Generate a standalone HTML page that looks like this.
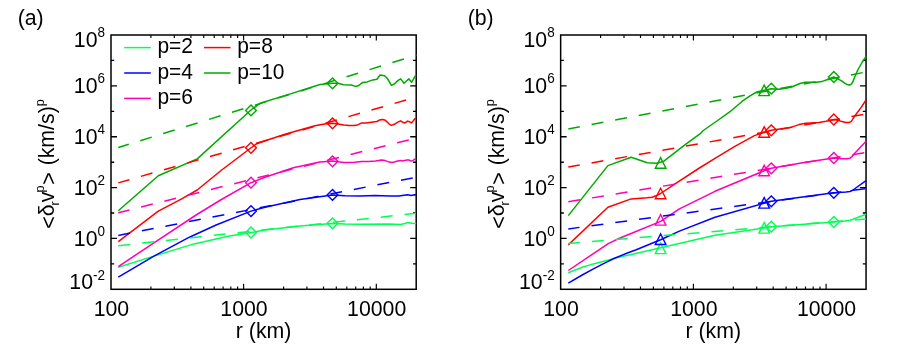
<!DOCTYPE html>
<html><head><meta charset="utf-8"><style>
html,body{margin:0;padding:0;background:#fff;}
svg{display:block;will-change:transform;font-family:"Liberation Sans",sans-serif;}
</style></head><body>
<svg width="899" height="360" viewBox="0 0 899 360">
<rect width="899" height="360" fill="#fff"/>
<rect x="111" y="35" width="305.2" height="254.3" fill="none" stroke="#000" stroke-width="1.5"/>
<path d="M150.9,289.3 v-2.9 M150.9,35 v2.9" stroke="#000" stroke-width="1.15"/>
<path d="M174.3,289.3 v-2.9 M174.3,35 v2.9" stroke="#000" stroke-width="1.15"/>
<path d="M190.9,289.3 v-2.9 M190.9,35 v2.9" stroke="#000" stroke-width="1.15"/>
<path d="M203.7,289.3 v-2.9 M203.7,35 v2.9" stroke="#000" stroke-width="1.15"/>
<path d="M214.2,289.3 v-2.9 M214.2,35 v2.9" stroke="#000" stroke-width="1.15"/>
<path d="M223.1,289.3 v-2.9 M223.1,35 v2.9" stroke="#000" stroke-width="1.15"/>
<path d="M230.8,289.3 v-2.9 M230.8,35 v2.9" stroke="#000" stroke-width="1.15"/>
<path d="M237.6,289.3 v-2.9 M237.6,35 v2.9" stroke="#000" stroke-width="1.15"/>
<path d="M243.6,289.3 v-5.5 M243.6,35 v5.5" stroke="#000" stroke-width="1.15"/>
<path d="M283.6,289.3 v-2.9 M283.6,35 v2.9" stroke="#000" stroke-width="1.15"/>
<path d="M306.9,289.3 v-2.9 M306.9,35 v2.9" stroke="#000" stroke-width="1.15"/>
<path d="M323.5,289.3 v-2.9 M323.5,35 v2.9" stroke="#000" stroke-width="1.15"/>
<path d="M336.3,289.3 v-2.9 M336.3,35 v2.9" stroke="#000" stroke-width="1.15"/>
<path d="M346.8,289.3 v-2.9 M346.8,35 v2.9" stroke="#000" stroke-width="1.15"/>
<path d="M355.7,289.3 v-2.9 M355.7,35 v2.9" stroke="#000" stroke-width="1.15"/>
<path d="M363.4,289.3 v-2.9 M363.4,35 v2.9" stroke="#000" stroke-width="1.15"/>
<path d="M370.2,289.3 v-2.9 M370.2,35 v2.9" stroke="#000" stroke-width="1.15"/>
<path d="M376.3,289.3 v-5.5 M376.3,35 v5.5" stroke="#000" stroke-width="1.15"/>
<text transform="translate(105,289.0) scale(1,1.045)" text-anchor="end" font-size="21.3">10<tspan dy="-8.5" font-size="13.5">-2</tspan></text>
<path d="M111,263.9 h3.2 M416.2,263.9 h-3.2" stroke="#000" stroke-width="1.35"/>
<path d="M111,238.4 h6.0 M416.2,238.4 h-6.0" stroke="#000" stroke-width="1.35"/>
<text transform="translate(105,245.9) scale(1,1.045)" text-anchor="end" font-size="21.3">10<tspan dy="-9.6" font-size="13.5">0</tspan></text>
<path d="M111,213.0 h3.2 M416.2,213.0 h-3.2" stroke="#000" stroke-width="1.35"/>
<path d="M111,187.6 h6.0 M416.2,187.6 h-6.0" stroke="#000" stroke-width="1.35"/>
<text transform="translate(105,195.1) scale(1,1.045)" text-anchor="end" font-size="21.3">10<tspan dy="-9.6" font-size="13.5">2</tspan></text>
<path d="M111,162.2 h3.2 M416.2,162.2 h-3.2" stroke="#000" stroke-width="1.35"/>
<path d="M111,136.7 h6.0 M416.2,136.7 h-6.0" stroke="#000" stroke-width="1.35"/>
<text transform="translate(105,144.2) scale(1,1.045)" text-anchor="end" font-size="21.3">10<tspan dy="-9.6" font-size="13.5">4</tspan></text>
<path d="M111,111.3 h3.2 M416.2,111.3 h-3.2" stroke="#000" stroke-width="1.35"/>
<path d="M111,85.9 h6.0 M416.2,85.9 h-6.0" stroke="#000" stroke-width="1.35"/>
<text transform="translate(105,93.4) scale(1,1.045)" text-anchor="end" font-size="21.3">10<tspan dy="-10.3" font-size="13.5">6</tspan></text>
<path d="M111,60.4 h3.2 M416.2,60.4 h-3.2" stroke="#000" stroke-width="1.35"/>
<text transform="translate(105,47.4) scale(1,1.045)" text-anchor="end" font-size="21.3">10<tspan dy="-9.6" font-size="13.5">8</tspan></text>
<text transform="translate(111.4,315.8) scale(1,1.045)" text-anchor="middle" font-size="21.3">100</text>
<text transform="translate(244.0,315.8) scale(1,1.045)" text-anchor="middle" font-size="21.3">1000</text>
<text transform="translate(376.7,315.8) scale(1,1.045)" text-anchor="middle" font-size="21.3">10000</text>
<text x="263.6" y="337.7" text-anchor="middle" font-size="21.3">r (km)</text>
<text transform="translate(54.3,228.8) rotate(-90)" font-size="21.3"><tspan dy="2">&lt;</tspan><tspan dy="-2">δ</tspan><tspan dy="4.6" dx="-1.1" font-size="12.5">r</tspan><tspan dy="-4.6" dx="-0.9">v</tspan><tspan dy="-10.3" dx="-0.9" font-size="12.5">p</tspan><tspan dy="12.3" dx="0.8">&gt;</tspan><tspan dy="-2" dx="1.1"> (km/s)</tspan><tspan dy="-10.3" font-size="12.5">p</tspan></text>
<text x="17.7" y="24.5" font-size="21.3">(a)</text>
<text x="467.7" y="24.5" font-size="21.3">(b)</text>
<path d="M124.2,47.6 H150.8" stroke="#00ff55" stroke-width="1.5"/>
<text transform="translate(157.4,53.3) scale(1,1.045)" font-size="21">p=2</text>
<path d="M124.2,73.0 H150.8" stroke="#0000ff" stroke-width="1.5"/>
<text transform="translate(157.4,78.7) scale(1,1.045)" font-size="21">p=4</text>
<path d="M124.2,98.4 H150.8" stroke="#ff00b4" stroke-width="1.5"/>
<text transform="translate(157.4,104.1) scale(1,1.045)" font-size="21">p=6</text>
<path d="M204,47.6 H230.5" stroke="#ff0000" stroke-width="1.5"/>
<text transform="translate(237.2,53.3) scale(1,1.045)" font-size="21">p=8</text>
<path d="M204,73.0 H230.5" stroke="#00aa00" stroke-width="1.5"/>
<text transform="translate(237.2,78.7) scale(1,1.045)" font-size="21">p=10</text>
<path d="M118.3,267.2 L153.9,256.1 L193.9,243.9 L229.4,236.1 L251.0,232.5 L265.0,230.1 L300.0,226.0 L332.2,223.4 L345.0,224.0 L360.0,224.2 L390.0,224.0 L400.4,224.5 L404.9,223.5 L407.6,222.4 L412.0,223.2 L416.2,223.6" fill="none" stroke="#00ff55" stroke-width="1.5" stroke-linejoin="round"/>
<path d="M118.3,277.2 L153.9,256.1 L189.4,237.2 L216.1,225.0 L251.0,211.1 L265.0,207.2 L300.0,199.5 L332.2,195.0 L345.0,195.8 L360.0,196.0 L375.0,195.5 L390.0,196.0 L398.7,196.1 L407.6,194.7 L411.1,195.6 L414.7,194.7 L416.2,195.0" fill="none" stroke="#0000ff" stroke-width="1.5" stroke-linejoin="round"/>
<path d="M118.3,266.6 L153.9,242.8 L196.1,215.0 L220.6,200.0 L251.0,182.7 L265.0,177.2 L293.3,167.8 L320.0,162.1 L326.9,161.4 L332.5,161.0 L338.1,161.7 L343.6,162.4 L349.2,162.5 L354.7,162.2 L361.7,161.4 L368.6,161.4 L375.6,161.0 L379.0,160.4 L381.1,160.0 L383.9,160.3 L386.7,161.1 L389.4,162.1 L392.2,162.4 L395.0,161.8 L397.8,161.1 L400.6,160.4 L402.6,161.0 L404.7,160.4 L406.8,160.0 L408.9,160.0 L411.0,161.1 L412.8,160.7 L414.4,159.3 L416.2,158.9" fill="none" stroke="#ff00b4" stroke-width="1.5" stroke-linejoin="round"/>
<path d="M118.3,241.6 L158.3,211.1 L181.7,198.9 L197.2,190.0 L221.7,170.0 L250.8,148.0 L256.7,143.7 L268.3,139.7 L285.0,134.2 L301.7,129.5 L315.0,125.8 L321.7,124.4 L326.9,123.8 L332.5,123.3 L338.1,123.9 L343.6,125.0 L349.2,125.4 L354.7,125.4 L358.2,124.7 L361.7,122.9 L365.8,122.9 L371.4,122.2 L376.9,121.5 L379.7,119.9 L382.5,119.4 L384.6,119.9 L387.4,122.2 L389.4,124.3 L391.5,125.4 L394.3,124.3 L397.8,122.2 L400.6,120.8 L403.3,122.6 L405.0,122.9 L407.5,121.1 L409.6,121.8 L411.4,122.9 L413.3,120.8 L415.1,118.5 L416.2,118.1" fill="none" stroke="#ff0000" stroke-width="1.5" stroke-linejoin="round"/>
<path d="M118.3,210.7 L158.3,175.8 L197.2,158.9 L251.0,110.0 L260.0,103.3 L288.9,94.4 L320.0,84.5 L332.5,83.3 L338.0,83.3 L343.6,84.7 L351.3,85.0 L355.4,86.4 L358.2,85.8 L362.4,82.6 L367.2,81.9 L372.8,79.9 L376.9,79.2 L380.0,75.0 L384.6,75.7 L387.4,78.5 L391.5,85.4 L394.3,84.0 L397.8,80.6 L400.6,78.9 L404.0,83.3 L406.1,81.3 L408.9,78.9 L411.7,82.2 L413.8,78.5 L416.0,75.0" fill="none" stroke="#00aa00" stroke-width="1.5" stroke-linejoin="round"/>
<path d="M245.6,232.5 L251.0,227.1 L256.4,232.5 L251.0,237.9 Z" fill="none" stroke="#00ff55" stroke-width="1.4"/>
<path d="M327.1,223.3 L332.5,217.9 L337.9,223.3 L332.5,228.7 Z" fill="none" stroke="#00ff55" stroke-width="1.4"/>
<path d="M245.6,211.1 L251.0,205.7 L256.4,211.1 L251.0,216.5 Z" fill="none" stroke="#0000ff" stroke-width="1.4"/>
<path d="M327.1,194.9 L332.5,189.5 L337.9,194.9 L332.5,200.3 Z" fill="none" stroke="#0000ff" stroke-width="1.4"/>
<path d="M245.6,182.7 L251.0,177.3 L256.4,182.7 L251.0,188.1 Z" fill="none" stroke="#ff00b4" stroke-width="1.4"/>
<path d="M327.1,161.3 L332.5,155.9 L337.9,161.3 L332.5,166.7 Z" fill="none" stroke="#ff00b4" stroke-width="1.4"/>
<path d="M245.6,147.8 L251.0,142.4 L256.4,147.8 L251.0,153.2 Z" fill="none" stroke="#ff0000" stroke-width="1.4"/>
<path d="M327.1,123.3 L332.5,117.9 L337.9,123.3 L332.5,128.7 Z" fill="none" stroke="#ff0000" stroke-width="1.4"/>
<path d="M245.6,110.4 L251.0,105.0 L256.4,110.4 L251.0,115.8 Z" fill="none" stroke="#00aa00" stroke-width="1.4"/>
<path d="M327.1,83.3 L332.5,77.9 L337.9,83.3 L332.5,88.7 Z" fill="none" stroke="#00aa00" stroke-width="1.4"/>
<path d="M118.3,245.7 L416.0,213.3" fill="none" stroke="#00ff55" stroke-width="1.5" stroke-linejoin="round" stroke-dasharray="12 12" stroke-dashoffset="0"/>
<path d="M118.3,235.4 L416.0,177.3" fill="none" stroke="#0000ff" stroke-width="1.5" stroke-linejoin="round" stroke-dasharray="12 12" stroke-dashoffset="0"/>
<path d="M118.3,212.7 L416.0,138.1" fill="none" stroke="#ff00b4" stroke-width="1.5" stroke-linejoin="round" stroke-dasharray="12 12" stroke-dashoffset="0.5"/>
<path d="M118.3,182.9 L416.0,97.2" fill="none" stroke="#ff0000" stroke-width="1.5" stroke-linejoin="round" stroke-dasharray="12 12" stroke-dashoffset="0.5"/>
<path d="M118.3,147.5 L416.4,55.1" fill="none" stroke="#00aa00" stroke-width="1.5" stroke-linejoin="round" stroke-dasharray="12 12" stroke-dashoffset="1.0"/>
<rect x="560.65" y="35" width="305.4" height="254.3" fill="none" stroke="#000" stroke-width="1.5"/>
<path d="M600.6,289.3 v-2.9 M600.6,35 v2.9" stroke="#000" stroke-width="1.15"/>
<path d="M624.0,289.3 v-2.9 M624.0,35 v2.9" stroke="#000" stroke-width="1.15"/>
<path d="M640.5,289.3 v-2.9 M640.5,35 v2.9" stroke="#000" stroke-width="1.15"/>
<path d="M653.4,289.3 v-2.9 M653.4,35 v2.9" stroke="#000" stroke-width="1.15"/>
<path d="M663.9,289.3 v-2.9 M663.9,35 v2.9" stroke="#000" stroke-width="1.15"/>
<path d="M672.8,289.3 v-2.9 M672.8,35 v2.9" stroke="#000" stroke-width="1.15"/>
<path d="M680.5,289.3 v-2.9 M680.5,35 v2.9" stroke="#000" stroke-width="1.15"/>
<path d="M687.3,289.3 v-2.9 M687.3,35 v2.9" stroke="#000" stroke-width="1.15"/>
<path d="M693.4,289.3 v-5.5 M693.4,35 v5.5" stroke="#000" stroke-width="1.15"/>
<path d="M733.3,289.3 v-2.9 M733.3,35 v2.9" stroke="#000" stroke-width="1.15"/>
<path d="M756.7,289.3 v-2.9 M756.7,35 v2.9" stroke="#000" stroke-width="1.15"/>
<path d="M773.2,289.3 v-2.9 M773.2,35 v2.9" stroke="#000" stroke-width="1.15"/>
<path d="M786.1,289.3 v-2.9 M786.1,35 v2.9" stroke="#000" stroke-width="1.15"/>
<path d="M796.6,289.3 v-2.9 M796.6,35 v2.9" stroke="#000" stroke-width="1.15"/>
<path d="M805.5,289.3 v-2.9 M805.5,35 v2.9" stroke="#000" stroke-width="1.15"/>
<path d="M813.2,289.3 v-2.9 M813.2,35 v2.9" stroke="#000" stroke-width="1.15"/>
<path d="M820.0,289.3 v-2.9 M820.0,35 v2.9" stroke="#000" stroke-width="1.15"/>
<path d="M826.1,289.3 v-5.5 M826.1,35 v5.5" stroke="#000" stroke-width="1.15"/>
<text transform="translate(554.65,289.0) scale(1,1.045)" text-anchor="end" font-size="21.3">10<tspan dy="-8.5" font-size="13.5">-2</tspan></text>
<path d="M560.65,263.9 h3.2 M866.0,263.9 h-3.2" stroke="#000" stroke-width="1.35"/>
<path d="M560.65,238.4 h6.0 M866.0,238.4 h-6.0" stroke="#000" stroke-width="1.35"/>
<text transform="translate(554.65,245.9) scale(1,1.045)" text-anchor="end" font-size="21.3">10<tspan dy="-9.6" font-size="13.5">0</tspan></text>
<path d="M560.65,213.0 h3.2 M866.0,213.0 h-3.2" stroke="#000" stroke-width="1.35"/>
<path d="M560.65,187.6 h6.0 M866.0,187.6 h-6.0" stroke="#000" stroke-width="1.35"/>
<text transform="translate(554.65,195.1) scale(1,1.045)" text-anchor="end" font-size="21.3">10<tspan dy="-9.6" font-size="13.5">2</tspan></text>
<path d="M560.65,162.2 h3.2 M866.0,162.2 h-3.2" stroke="#000" stroke-width="1.35"/>
<path d="M560.65,136.7 h6.0 M866.0,136.7 h-6.0" stroke="#000" stroke-width="1.35"/>
<text transform="translate(554.65,144.2) scale(1,1.045)" text-anchor="end" font-size="21.3">10<tspan dy="-9.6" font-size="13.5">4</tspan></text>
<path d="M560.65,111.3 h3.2 M866.0,111.3 h-3.2" stroke="#000" stroke-width="1.35"/>
<path d="M560.65,85.9 h6.0 M866.0,85.9 h-6.0" stroke="#000" stroke-width="1.35"/>
<text transform="translate(554.65,93.4) scale(1,1.045)" text-anchor="end" font-size="21.3">10<tspan dy="-10.3" font-size="13.5">6</tspan></text>
<path d="M560.65,60.4 h3.2 M866.0,60.4 h-3.2" stroke="#000" stroke-width="1.35"/>
<text transform="translate(554.65,47.4) scale(1,1.045)" text-anchor="end" font-size="21.3">10<tspan dy="-9.6" font-size="13.5">8</tspan></text>
<text transform="translate(561.0,315.8) scale(1,1.045)" text-anchor="middle" font-size="21.3">100</text>
<text transform="translate(693.8,315.8) scale(1,1.045)" text-anchor="middle" font-size="21.3">1000</text>
<text transform="translate(826.5,315.8) scale(1,1.045)" text-anchor="middle" font-size="21.3">10000</text>
<text x="713.3" y="337.7" text-anchor="middle" font-size="21.3">r (km)</text>
<text transform="translate(503.95,228.8) rotate(-90)" font-size="21.3"><tspan dy="2">&lt;</tspan><tspan dy="-2">δ</tspan><tspan dy="4.6" dx="-1.1" font-size="12.5">r</tspan><tspan dy="-4.6" dx="-0.9">v</tspan><tspan dy="-10.3" dx="-0.9" font-size="12.5">p</tspan><tspan dy="12.3" dx="0.8">&gt;</tspan><tspan dy="-2" dx="1.1"> (km/s)</tspan><tspan dy="-10.3" font-size="12.5">p</tspan></text>
<path d="M568.3,272.7 L582.2,267.3 L593.4,263.9 L604.5,261.1 L614.5,258.3 L626.7,255.6 L637.9,253.1 L651.2,250.0 L660.6,247.8 L715.0,235.2 L764.2,228.0 L771.3,226.7 L833.8,221.9 L845.0,220.9 L850.0,220.2 L853.0,219.3 L866.0,214.3" fill="none" stroke="#00ff55" stroke-width="1.5" stroke-linejoin="round"/>
<path d="M568.3,283.1 L582.2,275.0 L593.4,268.9 L604.5,263.1 L614.5,258.3 L626.7,253.3 L636.2,249.8 L660.6,239.7 L679.4,231.1 L715.0,217.2 L764.2,203.2 L771.3,201.3 L833.8,192.8 L846.0,191.9 L850.0,191.5 L853.0,190.0 L866.0,180.6" fill="none" stroke="#0000ff" stroke-width="1.5" stroke-linejoin="round"/>
<path d="M568.3,270.5 L608.3,243.6 L619.4,238.3 L631.7,233.2 L660.6,221.4 L679.4,208.9 L715.0,191.3 L764.2,170.8 L771.3,168.3 L805.6,162.2 L833.8,158.0 L841.0,158.8 L847.0,158.8 L850.0,158.2 L852.0,156.6 L855.0,153.0 L866.0,141.3" fill="none" stroke="#ff00b4" stroke-width="1.5" stroke-linejoin="round"/>
<path d="M568.3,244.9 L607.9,207.3 L631.2,198.9 L647.2,197.8 L652.0,197.2 L656.0,195.8 L660.6,193.5 L675.0,183.8 L699.4,168.0 L715.0,158.3 L734.4,146.7 L754.4,135.6 L764.2,132.5 L771.3,130.3 L790.0,127.6 L799.0,124.6 L805.6,123.3 L818.9,122.5 L826.0,121.2 L833.8,119.5 L838.0,120.3 L842.0,121.6 L846.0,122.4 L849.0,122.5 L851.0,121.6 L852.5,119.6 L854.2,116.7 L861.0,107.6 L866.0,100.0" fill="none" stroke="#ff0000" stroke-width="1.5" stroke-linejoin="round"/>
<path d="M568.3,215.6 L607.9,165.6 L631.2,157.3 L647.2,162.7 L657.2,163.3 L663.9,161.1 L683.9,145.6 L700.6,133.3 L703.3,130.5 L718.3,120.0 L730.0,111.7 L741.7,101.7 L750.0,95.8 L756.7,92.0 L764.2,90.3 L771.3,88.8 L778.9,89.2 L786.0,88.3 L791.7,87.0 L800.0,83.5 L805.0,82.2 L810.0,82.3 L815.0,82.6 L821.7,81.6 L828.3,79.3 L833.8,77.0 L838.0,78.8 L842.0,81.2 L845.0,83.3 L848.0,84.8 L849.7,85.0 L851.3,84.2 L852.8,82.0 L854.5,77.5 L858.0,69.5 L862.0,62.5 L866.0,56.5" fill="none" stroke="#00aa00" stroke-width="1.5" stroke-linejoin="round"/>
<path d="M655.3,253.6 L660.6,243.0 L665.9,253.6 Z" fill="none" stroke="#00ff55" stroke-width="1.4"/>
<path d="M758.9,233.1 L764.2,222.5 L769.5,233.1 Z" fill="none" stroke="#00ff55" stroke-width="1.4"/>
<path d="M765.9,226.7 L771.3,221.3 L776.7,226.7 L771.3,232.1 Z" fill="none" stroke="#00ff55" stroke-width="1.4"/>
<path d="M828.4,222.0 L833.8,216.6 L839.2,222.0 L833.8,227.4 Z" fill="none" stroke="#00ff55" stroke-width="1.4"/>
<path d="M655.3,244.5 L660.6,233.9 L665.9,244.5 Z" fill="none" stroke="#0000ff" stroke-width="1.4"/>
<path d="M758.9,208.1 L764.2,197.5 L769.5,208.1 Z" fill="none" stroke="#0000ff" stroke-width="1.4"/>
<path d="M765.9,201.3 L771.3,195.9 L776.7,201.3 L771.3,206.7 Z" fill="none" stroke="#0000ff" stroke-width="1.4"/>
<path d="M828.4,192.8 L833.8,187.4 L839.2,192.8 L833.8,198.2 Z" fill="none" stroke="#0000ff" stroke-width="1.4"/>
<path d="M655.3,225.1 L660.6,214.5 L665.9,225.1 Z" fill="none" stroke="#ff00b4" stroke-width="1.4"/>
<path d="M758.9,175.8 L764.2,165.2 L769.5,175.8 Z" fill="none" stroke="#ff00b4" stroke-width="1.4"/>
<path d="M765.9,168.3 L771.3,162.9 L776.7,168.3 L771.3,173.7 Z" fill="none" stroke="#ff00b4" stroke-width="1.4"/>
<path d="M828.4,158.0 L833.8,152.6 L839.2,158.0 L833.8,163.4 Z" fill="none" stroke="#ff00b4" stroke-width="1.4"/>
<path d="M655.3,198.8 L660.6,188.2 L665.9,198.8 Z" fill="none" stroke="#ff0000" stroke-width="1.4"/>
<path d="M758.9,137.3 L764.2,126.7 L769.5,137.3 Z" fill="none" stroke="#ff0000" stroke-width="1.4"/>
<path d="M765.9,130.3 L771.3,124.9 L776.7,130.3 L771.3,135.7 Z" fill="none" stroke="#ff0000" stroke-width="1.4"/>
<path d="M828.4,119.5 L833.8,114.1 L839.2,119.5 L833.8,124.9 Z" fill="none" stroke="#ff0000" stroke-width="1.4"/>
<path d="M655.3,168.2 L660.6,157.6 L665.9,168.2 Z" fill="none" stroke="#00aa00" stroke-width="1.4"/>
<path d="M758.9,95.6 L764.2,85.0 L769.5,95.6 Z" fill="none" stroke="#00aa00" stroke-width="1.4"/>
<path d="M765.9,88.7 L771.3,83.3 L776.7,88.7 L771.3,94.1 Z" fill="none" stroke="#00aa00" stroke-width="1.4"/>
<path d="M828.4,77.0 L833.8,71.6 L839.2,77.0 L833.8,82.4 Z" fill="none" stroke="#00aa00" stroke-width="1.4"/>
<path d="M568.3,243.4 L866.0,219.0" fill="none" stroke="#00ff55" stroke-width="1.5" stroke-linejoin="round" stroke-dasharray="12 12" stroke-dashoffset="0.4"/>
<path d="M568.3,228.9 L866.0,188.6" fill="none" stroke="#0000ff" stroke-width="1.5" stroke-linejoin="round" stroke-dasharray="12 12" stroke-dashoffset="0.6"/>
<path d="M568.3,201.8 L866.0,152.5" fill="none" stroke="#ff00b4" stroke-width="1.5" stroke-linejoin="round" stroke-dasharray="12 12" stroke-dashoffset="0"/>
<path d="M568.3,167.1 L866.0,114.0" fill="none" stroke="#ff0000" stroke-width="1.5" stroke-linejoin="round" stroke-dasharray="12 12" stroke-dashoffset="0.4"/>
<path d="M568.3,128.9 L866.0,72.0" fill="none" stroke="#00aa00" stroke-width="1.5" stroke-linejoin="round" stroke-dasharray="12 12" stroke-dashoffset="0.3"/>
</svg></body></html>
